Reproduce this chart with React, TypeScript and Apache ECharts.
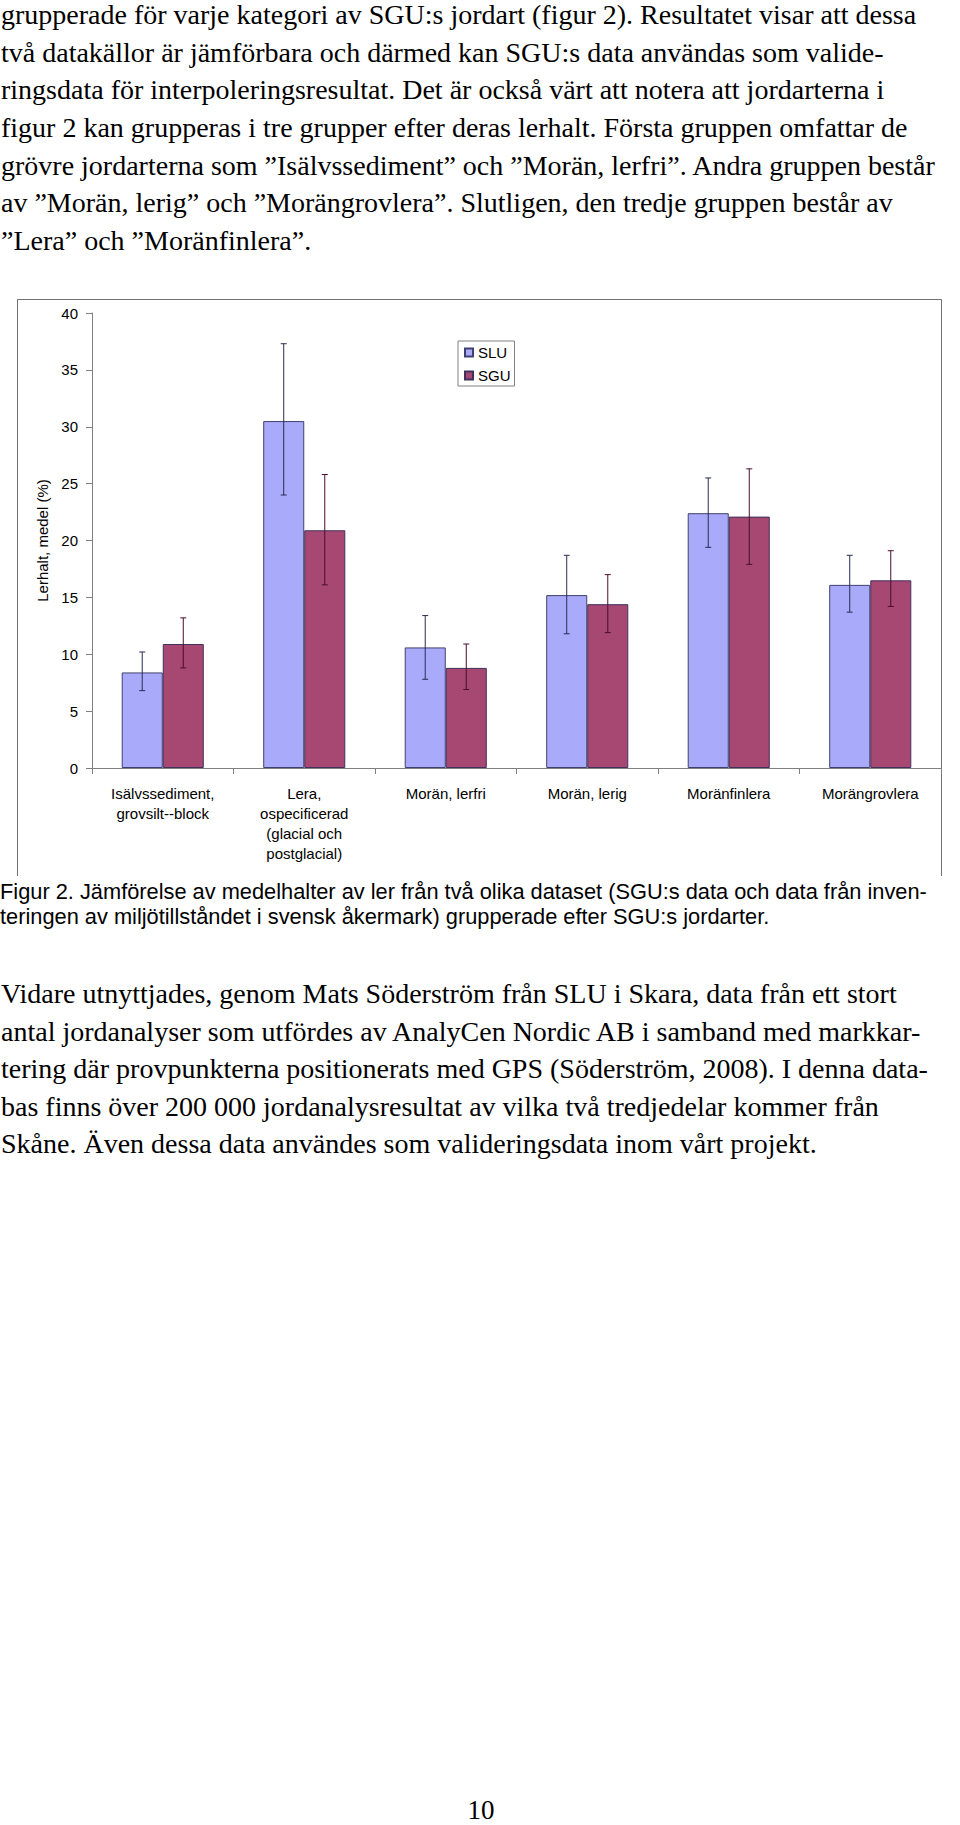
import React, { useEffect, useRef } from "react";
import * as echarts from "echarts";

const categories = [
  "Isälvssediment,\ngrovsilt--block",
  "Lera,\nospecificerad\n(glacial och\npostglacial)",
  "Morän, lerfri",
  "Morän, lerig",
  "Moränfinlera",
  "Morängrovlera",
];
const seriesNames = ["SLU", "SGU"];
const sluMean = [8.4, 30.5, 10.6, 15.2, 22.4, 16.1];
const sluLow = [6.8, 24.0, 7.8, 11.8, 19.4, 13.7];
const sluHigh = [10.2, 37.3, 13.4, 18.7, 25.5, 18.7];
const sguMean = [10.9, 20.9, 8.8, 14.4, 22.1, 16.5];
const sguLow = [8.8, 16.1, 6.9, 11.9, 17.9, 14.2];
const sguHigh = [13.2, 25.8, 10.9, 17.0, 26.3, 19.1];
const yAxisName = "Lerhalt, medel (%)";

const para1 = [
  "grupperade för varje kategori av SGU:s jordart (figur 2). Resultatet visar att dessa",
  "två datakällor är jämförbara och därmed kan SGU:s data användas som valide-",
  "ringsdata för interpoleringsresultat. Det är också värt att notera att jordarterna i",
  "figur 2 kan grupperas i tre grupper efter deras lerhalt. Första gruppen omfattar de",
  "grövre jordarterna som ”Isälvssediment” och ”Morän, lerfri”. Andra gruppen består",
  "av ”Morän, lerig” och ”Morängrovlera”. Slutligen, den tredje gruppen består av",
  "”Lera” och ”Moränfinlera”.",
];
const caption = [
  "Figur 2. Jämförelse av medelhalter av ler från två olika dataset (SGU:s data och data från inven-",
  "teringen av miljötillståndet i svensk åkermark) grupperade efter SGU:s jordarter.",
];
const para2 = [
  "Vidare utnyttjades, genom Mats Söderström från SLU i Skara, data från ett stort",
  "antal jordanalyser som utfördes av AnalyCen Nordic AB i samband med markkar-",
  "tering där provpunkterna positionerats med GPS (Söderström, 2008). I denna data-",
  "bas finns över 200 000 jordanalysresultat av vilka två tredjedelar kommer från",
  "Skåne. Även dessa data användes som valideringsdata inom vårt projekt.",
];
const pageNumber = "10";

const SERIF = '"Liberation Serif", "Times New Roman", serif';
const SANS = '"Liberation Sans", Arial, sans-serif';
const BAR_FRACTION = 0.58;

function textLines(lines: string[], x: number, firstBaseline: number, pitch: number, size: number, family: string, centralRatio: number) {
  return lines.map((t, i) => ({
    type: "text",
    x,
    y: firstBaseline + pitch * i - size * centralRatio,
    silent: true,
    style: {
      text: t,
      fontSize: size,
      fontFamily: family,
      fill: "#000",
      textVerticalAlign: "middle",
      verticalAlign: "middle",
    },
  }));
}

function errorSeries(low: number[], high: number[], side: number, color: string) {
  return {
    type: "custom",
    z: 5,
    silent: true,
    data: low.map((l, i) => [i, l, high[i]]),
    encode: { x: 0, y: [1, 2] },
    renderItem: (params: any, api: any) => {
      const idx = api.value(0);
      const pLow = api.coord([idx, api.value(1)]);
      const pHigh = api.coord([idx, api.value(2)]);
      const bw = (api.size([1, 0])[0] * BAR_FRACTION) / 2;
      const cx = pLow[0] + (side * bw) / 2;
      const cap = 3;
      const st = { stroke: color, lineWidth: 1 };
      return {
        type: "group",
        children: [
          { type: "line", shape: { x1: cx, y1: pLow[1], x2: cx, y2: pHigh[1] }, style: st },
          { type: "line", shape: { x1: cx - cap, y1: pLow[1], x2: cx + cap, y2: pLow[1] }, style: st },
          { type: "line", shape: { x1: cx - cap, y1: pHigh[1], x2: cx + cap, y2: pHigh[1] }, style: st },
        ],
      };
    },
  };
}

export default function App() {
  const ref = useRef<HTMLDivElement>(null);
  useEffect(() => {
    if (!ref.current) return;
    const chart = echarts.init(ref.current, undefined, { renderer: "svg" });
    const option: any = {
      animation: false,
      backgroundColor: "#fff",
      textStyle: { fontFamily: SANS },
      grid: { left: 92, right: 19, top: 313, height: 455, containLabel: false },
      legend: {
        data: seriesNames,
        orient: "vertical",
        left: 458,
        top: 341,
        padding: [4, 4, 3, 6],
        borderColor: "#808080",
        borderWidth: 1,
        itemWidth: 8,
        itemHeight: 8,
        itemGap: 8,
        icon: "rect",
        selectedMode: false,
        textStyle: { fontSize: 15, fontFamily: SANS, color: "#000", lineHeight: 15 },
      },
      xAxis: {
        type: "category",
        data: categories,
        axisLine: { lineStyle: { color: "#808080", width: 1 } },
        axisTick: { show: true, length: 6, lineStyle: { color: "#808080" } },
        axisLabel: {
          interval: 0,
          margin: 15,
          fontSize: 15,
          lineHeight: 20,
          fontFamily: SANS,
          color: "#000",
        },
      },
      yAxis: {
        type: "value",
        min: 0,
        max: 40,
        interval: 5,
        name: yAxisName,
        nameLocation: "middle",
        nameGap: 40,
        nameTextStyle: { fontSize: 15, fontFamily: SANS, color: "#000" },
        axisLine: { show: true, lineStyle: { color: "#808080", width: 1 } },
        axisTick: { show: true, length: 6, lineStyle: { color: "#808080" } },
        splitLine: { show: false },
        axisLabel: { margin: 14, fontSize: 15, fontFamily: SANS, color: "#000" },
      },
      series: [
        {
          name: seriesNames[0],
          type: "bar",
          data: sluMean,
          barGap: "0%",
          barCategoryGap: "42%",
          itemStyle: { color: "#A9ABFA", borderColor: "#40406e", borderWidth: 1 },
        },
        {
          name: seriesNames[1],
          type: "bar",
          data: sguMean,
          barGap: "0%",
          barCategoryGap: "42%",
          itemStyle: { color: "#A64872", borderColor: "#40305e", borderWidth: 1 },
        },
        errorSeries(sluLow, sluHigh, -1, "#2b2b55"),
        errorSeries(sguLow, sguHigh, 1, "#4a0f2a"),
      ],
      graphic: [
        {
          type: "polyline",
          silent: true,
          shape: { points: [[17.5, 876], [17.5, 299.5], [941.5, 299.5], [941.5, 876]] },
          style: { stroke: "#707070", lineWidth: 1, fill: null },
        },
        ...textLines(para1, 1, 24, 37.67, 28, SERIF, 0.3375),
        ...textLines(caption, 0, 899.3, 25, 21.8, SANS, 0.3465),
        ...textLines(para2, 1, 1003.3, 37.5, 28, SERIF, 0.3375),
        {
          type: "text",
          x: 481,
          y: 1819 - 27 * 0.3375,
          silent: true,
          style: {
            text: pageNumber,
            fontSize: 27,
            fontFamily: SERIF,
            fill: "#000",
            textAlign: "center",
            align: "center",
            textVerticalAlign: "middle",
            verticalAlign: "middle",
          },
        },
      ],
    };
    chart.setOption(option);
    return () => chart.dispose();
  }, []);
  return (
    <div
      ref={ref}
      style={{ position: "absolute", left: 0, top: 0, width: 960, height: 1825, background: "#fff" }}
    />
  );
}
